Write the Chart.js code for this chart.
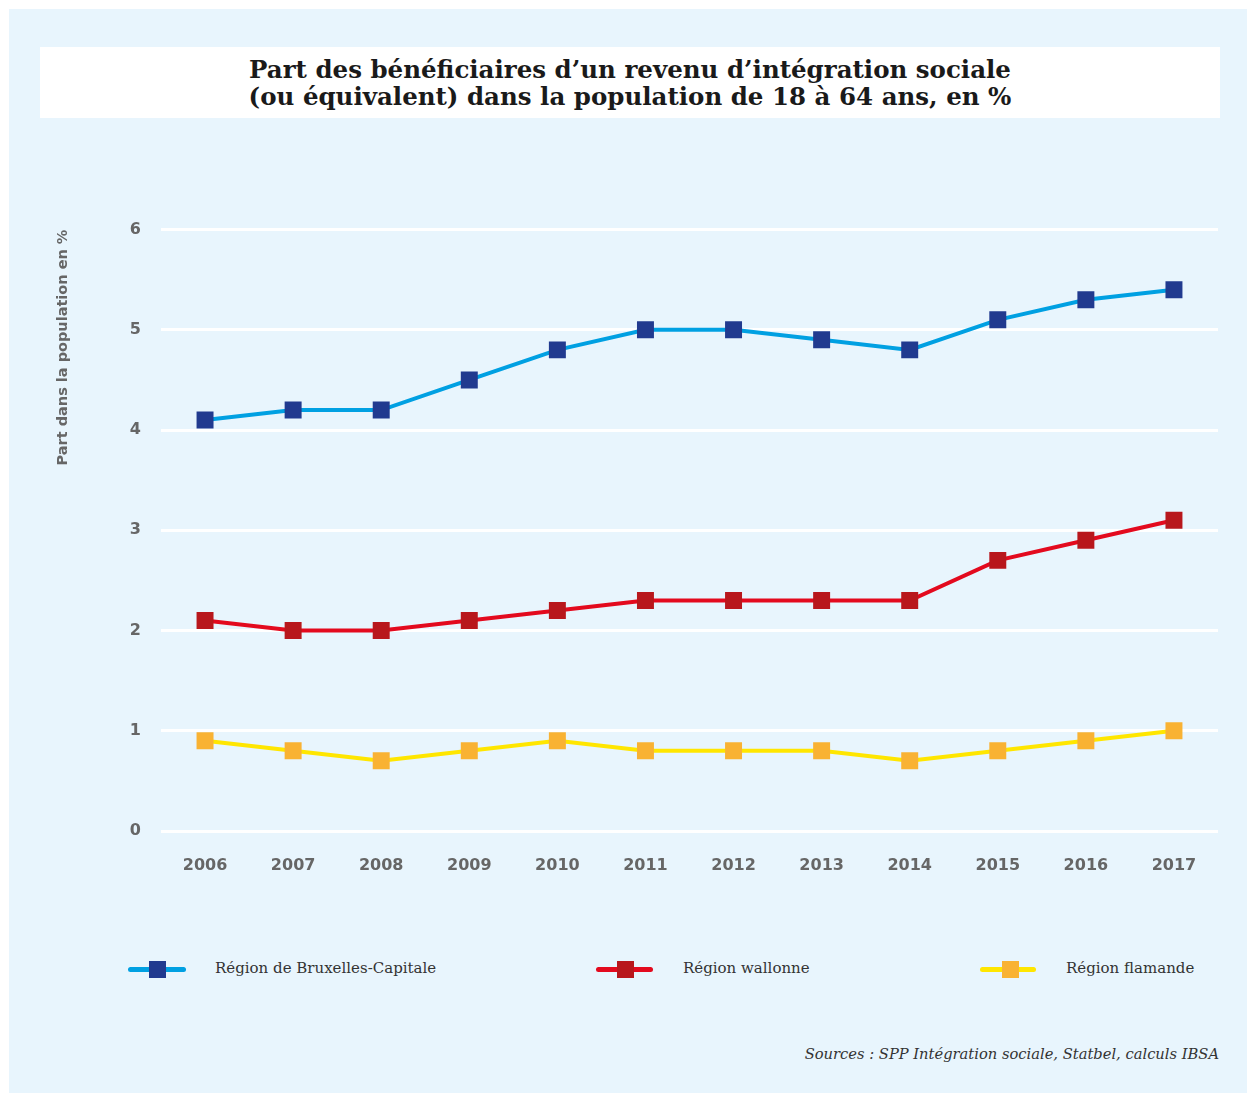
<!DOCTYPE html>
<html lang="fr">
<head>
<meta charset="utf-8">
<script src="https://cdn.jsdelivr.net/npm/chart.js@4.4.1/dist/chart.umd.min.js"></script>
<style>
  html, body { margin: 0; padding: 0; background: #ffffff; }
  body { width: 1247px; height: 1093px; position: relative; overflow: hidden; }
  #panel { position: absolute; left: 9px; top: 9px; width: 1238px; height: 1084px; background: #e8f5fd; }
  #titlebox { position: absolute; left: 40px; top: 47px; width: 1180px; height: 71px; background: #ffffff;
    display: flex; align-items: center; justify-content: center; text-align: center;
    font-family: "DejaVu Serif", serif; font-weight: bold; font-size: 24.5px; line-height: 27px; color: #1a1a1a; }
  #chartwrap { position: absolute; left: 40px; top: 200px; width: 1190px; height: 700px; }
  #legend { position: absolute; top: 957px; left: 0; width: 1247px; height: 24px;
    font-family: "DejaVu Serif", serif; font-size: 15px; color: #333; }
  .swatch { position: absolute; top: 10px; height: 5px; border-radius: 3px; }
  .mark { position: absolute; top: 4px; width: 17px; height: 17px; }
  .label { position: absolute; top: 2px; white-space: nowrap; }
  #source { position: absolute; right: 28px; top: 1045px; font-family: "DejaVu Serif", serif; font-style: italic;
    font-size: 14.7px; color: #333; }
</style>
</head>
<body>
<div id="panel"></div>
<div id="titlebox">Part des bénéficiaires d’un revenu d’intégration sociale<br>(ou équivalent) dans la population de 18 à 64 ans, en %</div>
<div id="chartwrap"><canvas id="chart" width="1190" height="700"></canvas></div>
<div id="legend"></div>
<div id="source">Sources : SPP Intégration sociale, Statbel, calculs IBSA</div>
<script>
// Years on the horizontal axis
const years = ['2006','2007','2008','2009','2010','2011','2012','2013','2014','2015','2016','2017'];
// Share of beneficiaries, % of population aged 18-64
const bruxelles = [4.1, 4.2, 4.2, 4.5, 4.8, 5.0, 5.0, 4.9, 4.8, 5.1, 5.3, 5.4];
const wallonie  = [2.1, 2.0, 2.0, 2.1, 2.2, 2.3, 2.3, 2.3, 2.3, 2.7, 2.9, 3.1];
const flandre   = [0.9, 0.8, 0.7, 0.8, 0.9, 0.8, 0.8, 0.8, 0.7, 0.8, 0.9, 1.0];
const seriesNames = ['Région de Bruxelles-Capitale', 'Région wallonne', 'Région flamande'];
const yTicks = [0, 1, 2, 3, 4, 5, 6];

const styles = [
  { line: '#00a0e2', mark: '#213a8f' },
  { line: '#e30a1e', mark: '#b8171c' },
  { line: '#ffe600', mark: '#f9b233' }
];
const values = [bruxelles, wallonie, flandre];

const datasets = values.map((v, i) => ({
  label: seriesNames[i],
  data: v,
  borderColor: styles[i].line,
  backgroundColor: styles[i].mark,
  borderWidth: 4,
  pointStyle: 'rect',
  pointRadius: 12,
  pointHoverRadius: 12,
  pointBorderWidth: 0,
  pointBackgroundColor: styles[i].mark,
  tension: 0
}));

const tickFont = { family: "'DejaVu Sans', sans-serif", size: 16, weight: 'bold' };

new Chart(document.getElementById('chart'), {
  type: 'line',
  data: { labels: years, datasets },
  options: {
    responsive: false,
    animation: false,
    layout: { padding: { top: 28, right: 10, left: 0, bottom: 0 } },
    plugins: { legend: { display: false }, tooltip: { enabled: false } },
    scales: {
      x: {
        offset: true,
        grid: { display: false, drawTicks: false },
        border: { display: false },
        ticks: { color: '#666', font: tickFont, padding: 25 },
        afterFit: s => { s.height = 69; }
      },
      y: {
        min: 0, max: 6,
        afterBuildTicks: s => { s.ticks = yTicks.map(v => ({ value: v })); },
        grid: { color: '#ffffff', lineWidth: 3, drawTicks: false },
        border: { display: false },
        ticks: { color: '#666', font: tickFont, padding: 20 },
        title: { display: true, text: 'Part dans la population en %', align: 'end', color: '#666',
          font: { family: "'DejaVu Sans', sans-serif", size: 14.5, weight: 'bold' }, padding: { top: 15, bottom: 20 } },
        afterFit: s => { s.width = 121; }
      }
    }
  }
});

// Legend: line swatch with square marker, then label
const legendPos = [
  { lineLeft: 128, lineWidth: 58, markLeft: 149, textLeft: 215 },
  { lineLeft: 596, lineWidth: 57, markLeft: 617, textLeft: 683 },
  { lineLeft: 980, lineWidth: 56, markLeft: 1002, textLeft: 1066 }
];
const legend = document.getElementById('legend');
seriesNames.forEach((name, i) => {
  const p = legendPos[i];
  const sw = document.createElement('div');
  sw.className = 'swatch';
  sw.style.left = p.lineLeft + 'px'; sw.style.width = p.lineWidth + 'px'; sw.style.background = styles[i].line;
  const mk = document.createElement('div');
  mk.className = 'mark';
  mk.style.left = p.markLeft + 'px'; mk.style.background = styles[i].mark;
  const lb = document.createElement('div');
  lb.className = 'label';
  lb.style.left = p.textLeft + 'px'; lb.textContent = name;
  legend.append(sw, mk, lb);
});
</script>
</body>
</html>
